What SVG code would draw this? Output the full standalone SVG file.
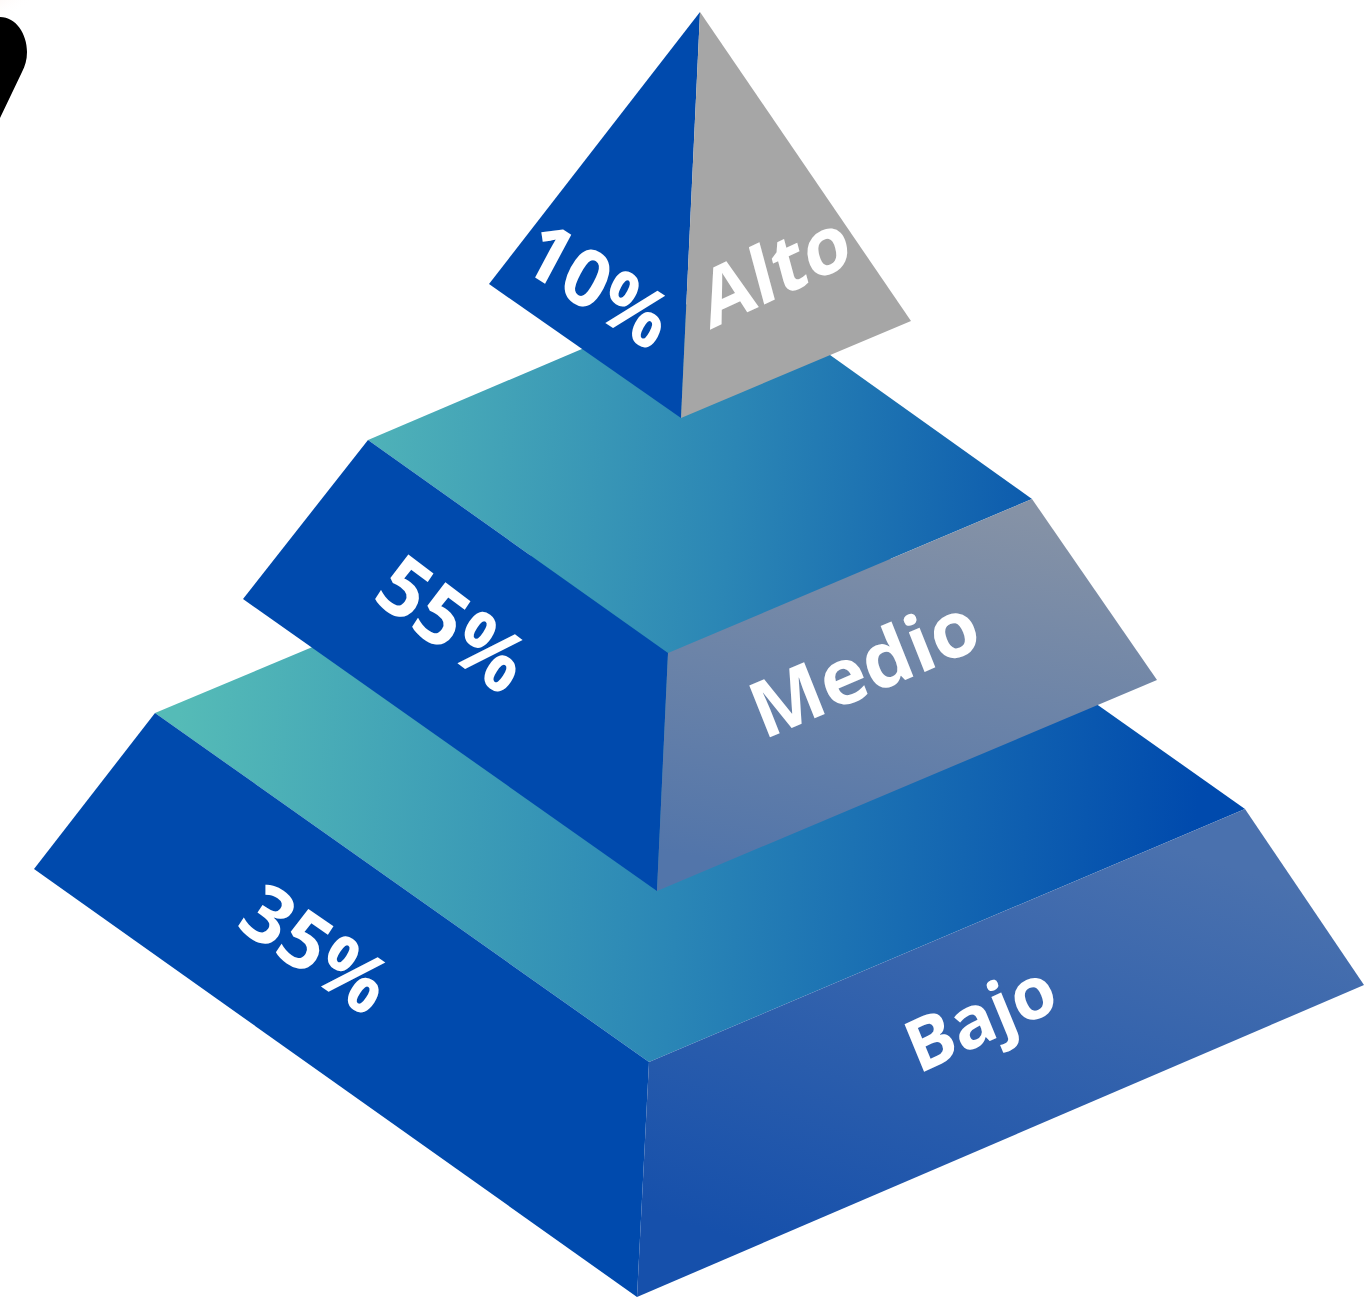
<svg xmlns="http://www.w3.org/2000/svg" width="1364" height="1297" viewBox="0 0 1364 1297">
  <defs>
    <linearGradient id="topFaceB" gradientUnits="userSpaceOnUse" x1="180" y1="700" x2="1200" y2="780">
      <stop offset="0" stop-color="#55bbb7"/>
      <stop offset="0.5" stop-color="#2a86b6"/>
      <stop offset="1" stop-color="#004aad"/>
    </linearGradient>
    <linearGradient id="topFaceM" gradientUnits="userSpaceOnUse" x1="368" y1="440" x2="1100" y2="500">
      <stop offset="0" stop-color="#4fb2b8"/>
      <stop offset="0.5" stop-color="#2b86b5"/>
      <stop offset="1" stop-color="#0652ac"/>
    </linearGradient>
    <linearGradient id="rightM" gradientUnits="userSpaceOnUse" x1="950" y1="500" x2="880" y2="890">
      <stop offset="0" stop-color="#8592a6"/>
      <stop offset="1" stop-color="#5275aa"/>
    </linearGradient>
    <linearGradient id="rightB" gradientUnits="userSpaceOnUse" x1="1050" y1="810" x2="900" y2="1290">
      <stop offset="0" stop-color="#4a71ae"/>
      <stop offset="1" stop-color="#1650ab"/>
    </linearGradient>
    <radialGradient id="blush" cx="0" cy="0" r="1">
      <stop offset="0" stop-color="#f6d9d2"/>
      <stop offset="1" stop-color="#ffffff" stop-opacity="0"/>
    </radialGradient>
  </defs>
  <style>
    .left { fill: #004aad; }
    .label { font-family: "Open Sans", "Liberation Sans", sans-serif; font-weight: 700; fill: #ffffff; text-anchor: middle; }
  </style>
  <rect width="1364" height="1297" fill="#ffffff"/>
  <g id="corner-mark">
    <ellipse cx="10" cy="0" rx="30" ry="22" fill="url(#blush)"/>
    <path d="M0,17 C16,17 27,34 27,52 C27,60 25,66 22,72 L0,118 Z" fill="#000000"/>
  </g>
  <g id="connectors"/>
  <g id="tier-bottom">
    <polygon points="155,713 754,462 1245,809 649,1062" fill="url(#topFaceB)"/>
    <polygon class="left" points="155,713 649,1062 637,1297 34,869"/>
    <polygon points="649,1062 1245,809 1364,985 637,1297" fill="url(#rightB)"/>
    <text class="label" font-size="79" transform="matrix(0.82,0.57,-0.55,0.835,316,949)" x="0" y="28">35%</text>
    <text class="label" font-size="72" transform="matrix(0.906,-0.423,0.38,0.925,980,1017)" x="0" y="26">Bajo</text>
  </g>
  <g id="tier-middle">
    <polygon points="368,440 732,285 1032,499 668,653" fill="url(#topFaceM)"/>
    <polygon class="left" points="368,440 668,653 657,891 243,599"/>
    <polygon points="668,653 1032,499 1157,680 657,891" fill="url(#rightM)"/>
    <text class="label" font-size="81" transform="matrix(0.8,0.6,-0.55,0.835,453,624)" x="0" y="29">55%</text>
    <text class="label" font-size="78" transform="matrix(0.92,-0.39,0.37,0.93,864,667)" x="0" y="28">Medio</text>
  </g>
  <g id="tier-top">
    <polygon class="left" points="700,12 681,418 489,284"/>
    <polygon points="700,12 911,321 681,418" fill="#a6a6a6"/>
    <text class="label" font-size="78" transform="matrix(0.839,0.545,-0.47,0.88,598,285)" x="0" y="28">10%</text>
    <text class="label" font-size="78" transform="matrix(0.906,-0.423,0.26,0.966,775,269)" x="0" y="28">Alto</text>
  </g>
</svg>
